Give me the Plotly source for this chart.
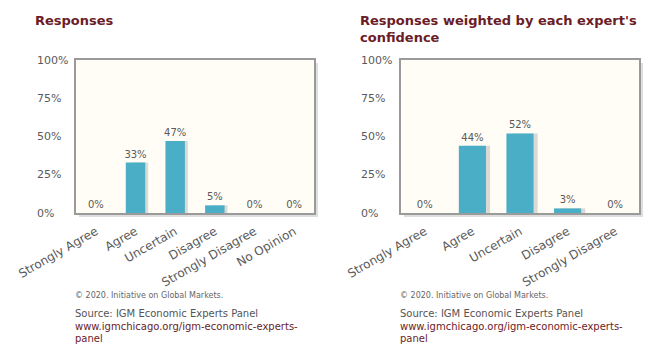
import plotly.graph_objects as go

# ---- data ----
cats_left = ["Strongly Agree", "Agree", "Uncertain", "Disagree", "Strongly Disagree", "No Opinion"]
vals_left = [0, 33, 47, 5, 0, 0]
cats_right = ["Strongly Agree", "Agree", "Uncertain", "Disagree", "Strongly Disagree"]
vals_right = [0, 44, 52, 3, 0]
y_ticks = [0, 25, 50, 75, 100]
y_tick_labels = ["0%", "25%", "50%", "75%", "100%"]
title_left = "Responses"
title_right = "Responses weighted by each expert's<br>confidence"
copyright = "© 2020. Initiative on Global Markets."
source = "Source: IGM Economic Experts Panel"
url_lines = ["www.igmchicago.org/igm-economic-experts-", "panel"]

PAGE_OFF = 8  # default body margin of the page
W, H = 661 - PAGE_OFF, 357 - PAGE_OFF
BAR = "#4AAFC6"
MAROON = "#6B1C27"
GRAY = "#5A5A5A"
FONT = "DejaVu Sans"

def px(x):
    return (x - PAGE_OFF) / W

def py(y):
    return 1 - (y - PAGE_OFF) / H

left_dom = [px(76), px(314)]
right_dom = [px(401), px(639)]
y_dom = [py(213), py(60)]

fig = go.Figure()

def add_panel(cats, vals, xa, ya, width):
    off = -width / 2
    # soft shadow behind bars
    fig.add_trace(go.Bar(
        x=cats, y=vals, xaxis=xa, yaxis=ya,
        width=width * 0.9, offset=off + width * 0.25,
        marker=dict(color="rgba(90,90,90,0.22)", line=dict(width=0)),
        hoverinfo="skip", showlegend=False,
    ))
    fig.add_trace(go.Bar(
        x=cats, y=vals, xaxis=xa, yaxis=ya,
        width=width, offset=off,
        marker=dict(color=BAR, line=dict(width=0)),
        text=[f"{v}%" for v in vals], textposition="outside",
        constraintext="none",
        textfont=dict(family=FONT, size=10, color=GRAY),
        cliponaxis=False, showlegend=False,
    ))

add_panel(cats_left, vals_left, "x", "y", 0.49)
add_panel(cats_right, vals_right, "x2", "y2", 0.57)

axis_common = dict(showgrid=False, zeroline=False, showline=True, linecolor="#9A9A9A",
                   linewidth=2, mirror=True, automargin=False)
xaxis_extra = dict(tickangle=-30, ticks="outside", ticklen=5, tickcolor="rgba(0,0,0,0)",
                   tickfont=dict(family=FONT, size=12, color=GRAY))
fig.update_layout(
    width=W, height=H,
    margin=dict(l=0, r=0, t=0, b=0, autoexpand=False),
    paper_bgcolor="white",
    plot_bgcolor="#FFFDF5",
    barmode="overlay",
    showlegend=False,
    font=dict(family=FONT, color=GRAY),
    xaxis=dict(domain=left_dom, anchor="y", **xaxis_extra, **axis_common),
    yaxis=dict(domain=y_dom, anchor="x", range=[0, 100], showticklabels=False, ticks="", **axis_common),
    xaxis2=dict(domain=right_dom, anchor="y2", **xaxis_extra, **axis_common),
    yaxis2=dict(domain=y_dom, anchor="x2", range=[0, 100], showticklabels=False, ticks="", **axis_common),
)

# plot-box drop shadows (right and bottom strips, outside the box)
for dom in (left_dom, right_dom):
    fig.add_shape(type="rect", xref="paper", yref="paper", layer="below",
                  x0=dom[1] + 1 / W, x1=dom[1] + 4 / W, y0=y_dom[0] - 4 / H, y1=y_dom[1] - 3 / H,
                  fillcolor="rgba(0,0,0,0.13)", line=dict(width=0))
    fig.add_shape(type="rect", xref="paper", yref="paper", layer="below",
                  x0=dom[0] + 3 / W, x1=dom[1] + 1 / W, y0=y_dom[0] - 4 / H, y1=y_dom[0] - 1 / H,
                  fillcolor="rgba(0,0,0,0.13)", line=dict(width=0))

annotations = []
# y tick labels, left aligned
for yref, xl in (("y", 35), ("y2", 359)):
    for t, lab in zip(y_ticks, y_tick_labels):
        annotations.append(dict(x=px(xl), xref="paper", y=t, yref=yref, text=lab,
                                showarrow=False, xanchor="left", yanchor="middle",
                                font=dict(family=FONT, size=11, color=GRAY)))

annotations.append(dict(x=px(33), y=py(20), xref="paper", yref="paper", text=f"<b>{title_left}</b>",
                        showarrow=False, xanchor="left", yanchor="middle",
                        font=dict(family=FONT, size=13, color=MAROON)))
annotations.append(dict(x=px(358), y=py(11), xref="paper", yref="paper", text=f"<b>{title_right}</b>",
                        showarrow=False, xanchor="left", yanchor="top", align="left",
                        font=dict(family=FONT, size=13, color=MAROON)))

for xl in (73, 398):
    annotations.append(dict(x=px(xl), y=py(295), xref="paper", yref="paper", text=copyright,
                            showarrow=False, xanchor="left", yanchor="middle",
                            font=dict(family=FONT, size=8, color="#666666")))
    annotations.append(dict(x=px(xl), y=py(313), xref="paper", yref="paper", text=source,
                            showarrow=False, xanchor="left", yanchor="middle",
                            font=dict(family=FONT, size=10, color="#555555")))
    for i, line in enumerate(url_lines):
        annotations.append(dict(x=px(xl), y=py(326 + 12 * i), xref="paper", yref="paper", text=line,
                                showarrow=False, xanchor="left", yanchor="middle",
                                font=dict(family=FONT, size=10, color=MAROON)))

fig.update_layout(annotations=annotations)
fig.write_html("out.html")
